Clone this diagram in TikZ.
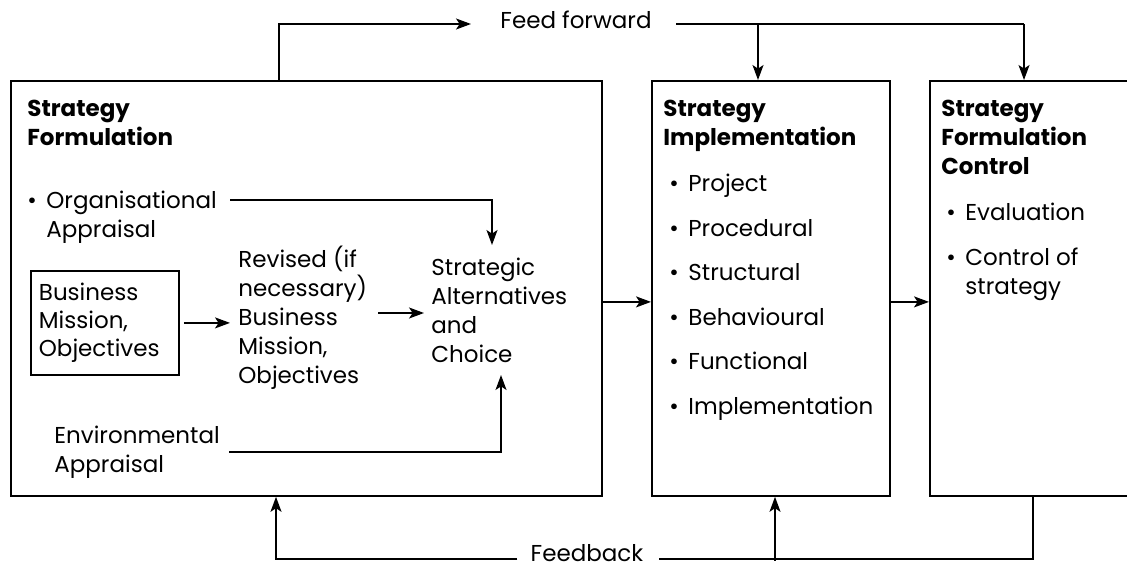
\documentclass[tikz,border=0pt]{standalone}
\usepackage{fontspec}
\setmainfont{Poppins}
\usepackage{tikz}
\usetikzlibrary{arrows.meta,calc}
\newcommand{\bul}{\makebox[9.5pt][l]{\textbullet}}
\tikzset{
  stagebox/.style={
    draw,
    line width=0.9pt,
    anchor=north west,
    inner sep=0pt,
    minimum height=207.5pt
  },
  txt/.style={
    align=left,
    anchor=north west,
    inner sep=0pt,
    font=\fontsize{11.5}{14.5}\selectfont,
    execute at begin node=\rule{0pt}{12pt}
  },
  headtxt/.style={txt, font=\fontsize{11.5}{14.5}\selectfont\bfseries},
  missionbox/.style={
    draw,
    line width=0.9pt,
    anchor=north west,
    align=left,
    font=\fontsize{11.5}{14}\selectfont,
    text width=66pt,
    inner xsep=4pt,
    minimum height=52pt
  },
  flowtxt/.style={inner sep=0pt, font=\fontsize{11.5}{14.5}\selectfont},
  arrow/.style={-{Stealth[length=7.5pt,width=5.5pt,inset=1.8pt]}, line width=0.75pt},
  link/.style={line width=0.75pt}
}

\begin{document}
\begin{tikzpicture}[x=0.5pt,y=-0.5pt]
  \useasboundingbox (0,0) rectangle (1127,567);
  \clip (0,0) rectangle (1127,567);

  % stages
  \node[stagebox, minimum width=295.5pt] (formbox) at (10,80) {};
  \node[stagebox, minimum width=119pt] (implbox) at (651,80) {};
  \node[stagebox, minimum width=110pt] (ctrlbox) at (929,80) {};

  % formulation
  \node[headtxt] (formtitle) at (27,100) {Strategy\\Formulation};
  \node[txt] (orgapp) at (27,191) {\bul Organisational\\\phantom{\bul}Appraisal};
  \node[missionbox] (bizbox) at (30,270) {Business\\Mission,\\Objectives};
  \node[txt] (revised) at (238,246) {Revised (if\\necessary)\\Business\\Mission,\\Objectives};
  \node[txt] (stratalt) at (431,258) {Strategic\\Alternatives\\and\\Choice};
  \node[txt] (envapp) at (54,426) {Environmental\\Appraisal};

  % implementation
  \node[headtxt] (impltitle) at (663,100) {Strategy\\Implementation};
  \node[txt] (impllist) at (669,174) {\bul Project\\[7.75pt]\bul Procedural\\[7.75pt]\bul Structural\\[7.75pt]\bul Behavioural\\[7.75pt]\bul Functional\\[7.75pt]\bul Implementation};

  % control
  \node[headtxt] (ctrltitle) at (941,100) {Strategy\\Formulation\\Control};
  \node[txt] (ctrllist) at (946,203) {\bul Evaluation\\[7.75pt]\bul Control of\\\phantom{\bul}strategy};

  % loops
  \node[flowtxt] (feedfwd) at (576,20) {Feed forward};
  \node[flowtxt] (feedback) at (587,553) {Feedback};
  \coordinate (ffmid) at (758,24);
  \coordinate (ffend) at (1024,24);
  \coordinate (fbline) at (587,559);

  % arrows
  \draw[arrow] ($(orgapp.north west)+(203,9)$) -| ($(stratalt.north west)+(61,-13)$);
  \draw[arrow] ([xshift=2pt]bizbox.east) -- ([xshift=-4pt]bizbox.east -| revised.west);
  \draw[arrow] ($(revised.north west)+(140,67)$) -- ($(stratalt.north west)+(-7,55)$);
  \draw[arrow] ($(envapp.north west)+(175,26)$) -| ($(stratalt.north west)+(70,117)$);
  \draw[arrow] ($(formbox.east)+(0,13.5)$) -- ($(implbox.west)+(0,13.5)$);
  \draw[arrow] ($(implbox.east)+(0,13.5)$) -- ($(ctrlbox.west)+(0,13.5)$);

  \draw[arrow] ($(formbox.north west)+(269,0)$) |- ($(feedfwd.west |- ffend)+(-29,0)$);
  \draw[link] ($(feedfwd.east |- ffend)+(24,0)$) -- (ffend);
  \draw[arrow] (ffmid) -- (ffmid |- implbox.north);
  \draw[arrow] (ffend) -- (ffend |- ctrlbox.north);

  \draw[link] ($(ctrlbox.south west)+(104,0)$) |- ($(feedback.east |- fbline)+(15,0)$);
  \draw[arrow] ($(implbox.south west)+(124,64)$) -- ($(implbox.south west)+(124,0)$);
  \draw[arrow] ($(feedback.west |- fbline)+(-13,0)$) -| ($(formbox.south west)+(266,0)$);
\end{tikzpicture}
\end{document}
